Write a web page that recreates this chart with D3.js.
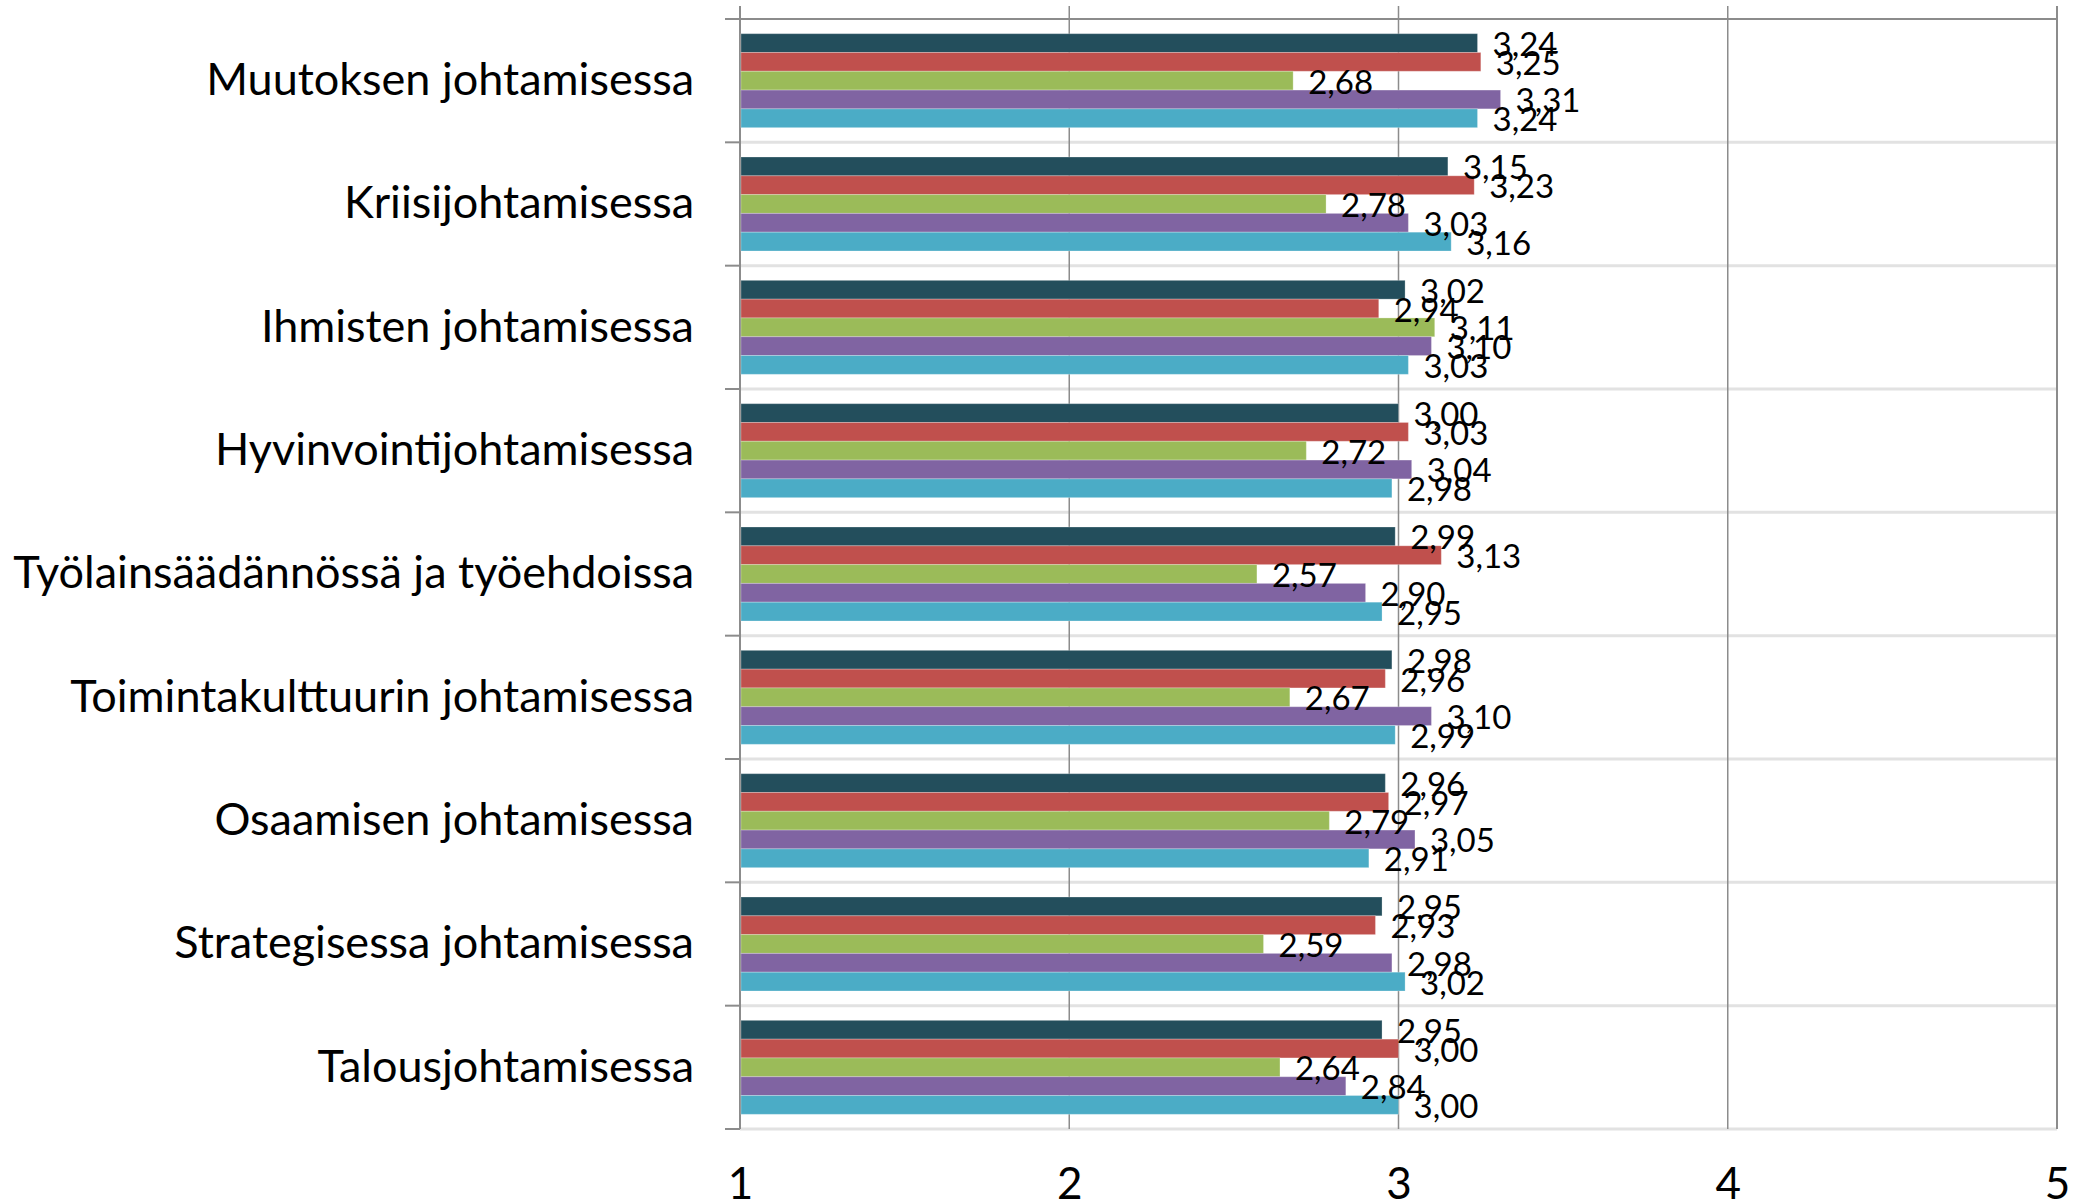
<!DOCTYPE html>
<html>
<head>
<meta charset="utf-8">
<script src="https://cdn.jsdelivr.net/npm/d3@7"></script>
<style>
  body { margin: 0; background: #fff; }
  svg { display: block; }
</style>
</head>
<body>
<div id="chart"></div>
<script>
// categories, top to bottom
var categories = [
    "Muutoksen johtamisessa",
    "Kriisijohtamisessa",
    "Ihmisten johtamisessa",
    "Hyvinvointijohtamisessa",
    "Työlainsäädännössä ja työehdoissa",
    "Toimintakulttuurin johtamisessa",
    "Osaamisen johtamisessa",
    "Strategisessa johtamisessa",
    "Talousjohtamisessa"
];

// five series, one value per category
var series1 = [3.24, 3.15, 3.02, 3.00, 2.99, 2.98, 2.96, 2.95, 2.95];
var series2 = [3.25, 3.23, 2.94, 3.03, 3.13, 2.96, 2.97, 2.93, 3.00];
var series3 = [2.68, 2.78, 3.11, 2.72, 2.57, 2.67, 2.79, 2.59, 2.64];
var series4 = [3.31, 3.03, 3.10, 3.04, 2.90, 3.10, 3.05, 2.98, 2.84];
var series5 = [3.24, 3.16, 3.03, 2.98, 2.95, 2.99, 2.91, 3.02, 3.00];

var seriesNames = ["Sarja 1", "Sarja 2", "Sarja 3", "Sarja 4", "Sarja 5"];
var seriesColors = ["#234e5c", "#c0504d", "#9bbb59", "#8064a2", "#4bacc6"];
var xTicks = [1, 2, 3, 4, 5];

var allSeries = [series1, series2, series3, series4, series5];

var width = 2098, height = 1200;
var margin = { top: 19, right: 41, bottom: 71, left: 740 };

var svg = d3.select("#chart").append("svg")
    .attr("width", width)
    .attr("height", height);

var x = d3.scaleLinear()
    .domain([1, 5])
    .range([margin.left, width - margin.right]);

var y = d3.scaleBand()
    .domain(categories)
    .range([margin.top, height - margin.bottom]);

var gap = y.bandwidth() * 0.119;
var ySub = d3.scaleBand()
    .domain(seriesNames)
    .range([gap, y.bandwidth() - gap]);

var plotTop = 6, plotBottom = height - margin.bottom;

// light category divider lines
var boundaries = categories.map(function(c) { return y(c); }).concat([plotBottom]);
svg.append("g").selectAll("line")
    .data(boundaries.slice(1))
    .enter().append("line")
    .attr("x1", margin.left)
    .attr("x2", x(5))
    .attr("y1", function(d) { return d; })
    .attr("y2", function(d) { return d; })
    .attr("stroke", "#e2e2e2")
    .attr("stroke-width", 3);

// vertical gridlines
svg.append("g").selectAll("line")
    .data(xTicks)
    .enter().append("line")
    .attr("x1", function(d) { return x(d); })
    .attr("x2", function(d) { return x(d); })
    .attr("y1", plotTop)
    .attr("y2", plotBottom)
    .attr("stroke", "#8c8c8c")
    .attr("stroke-width", function(d) { return d == 1 || d == 5 ? 2 : 1.5; });

// top line
svg.append("line")
    .attr("x1", margin.left - 15)
    .attr("x2", x(5))
    .attr("y1", margin.top)
    .attr("y2", margin.top)
    .attr("stroke", "#8c8c8c")
    .attr("stroke-width", 2);

// category axis ticks at boundaries
svg.append("g").selectAll("line")
    .data(boundaries.slice(1))
    .enter().append("line")
    .attr("x1", margin.left - 15)
    .attr("x2", margin.left)
    .attr("y1", function(d) { return d; })
    .attr("y2", function(d) { return d; })
    .attr("stroke", "#8c8c8c")
    .attr("stroke-width", 2);

// bars
var groups = svg.append("g").selectAll("g")
    .data(categories)
    .enter().append("g")
    .attr("transform", function(d) { return "translate(0," + y(d) + ")"; });

groups.selectAll("rect")
    .data(function(d, i) {
        return allSeries.map(function(s, j) { return { name: seriesNames[j], value: s[i], color: seriesColors[j] }; });
    })
    .enter().append("rect")
    .attr("x", x(1) + 1)
    .attr("y", function(d) { return ySub(d.name); })
    .attr("width", function(d) { return x(d.value) - x(1) - 1; })
    .attr("height", ySub.bandwidth())
    .attr("fill", function(d) { return d.color; })
    .attr("stroke", "#ffffff")
    .attr("stroke-opacity", 0.25)
    .attr("stroke-width", 1);

// value labels on top of all bars
var labelGroups = svg.append("g").selectAll("g")
    .data(categories)
    .enter().append("g")
    .attr("transform", function(d) { return "translate(0," + y(d) + ")"; });

labelGroups.selectAll("text")
    .data(function(d, i) {
        return allSeries.map(function(s, j) { return { name: seriesNames[j], value: s[i] }; });
    })
    .enter().append("text")
    .attr("x", function(d) { return x(d.value) + 15; })
    .attr("y", function(d) { return ySub(d.name) + ySub.bandwidth() / 2 + 13; })
    .attr("font-family", "Lato, 'Noto Sans', sans-serif")
    .attr("font-size", 33)
    .attr("fill", "#000")
    .text(function(d) { return d3.format(".2f")(d.value).replace(".", ","); });

// category labels
var yAxis = d3.axisLeft(y).tickSize(0).tickPadding(46);
svg.append("g")
    .attr("class", "y-axis")
    .attr("transform", "translate(" + margin.left + ",0)")
    .call(yAxis)
    .call(function(g) { g.select(".domain").remove(); })
    .selectAll("text")
    .attr("font-family", "Lato, 'Noto Sans', sans-serif")
    .attr("font-size", 45)
    .attr("fill", "#000");

// value axis labels
var xAxis = d3.axisBottom(x).tickValues(xTicks).tickSize(0).tickFormat(d3.format("d"));
svg.append("g")
    .attr("class", "x-axis")
    .attr("transform", "translate(0," + plotBottom + ")")
    .call(xAxis)
    .call(function(g) { g.select(".domain").remove(); })
    .selectAll("text")
    .attr("y", 70)
    .attr("dy", 0)
    .attr("font-family", "Lato, 'Noto Sans', sans-serif")
    .attr("font-size", 44)
    .attr("fill", "#000");
</script>
</body>
</html>
